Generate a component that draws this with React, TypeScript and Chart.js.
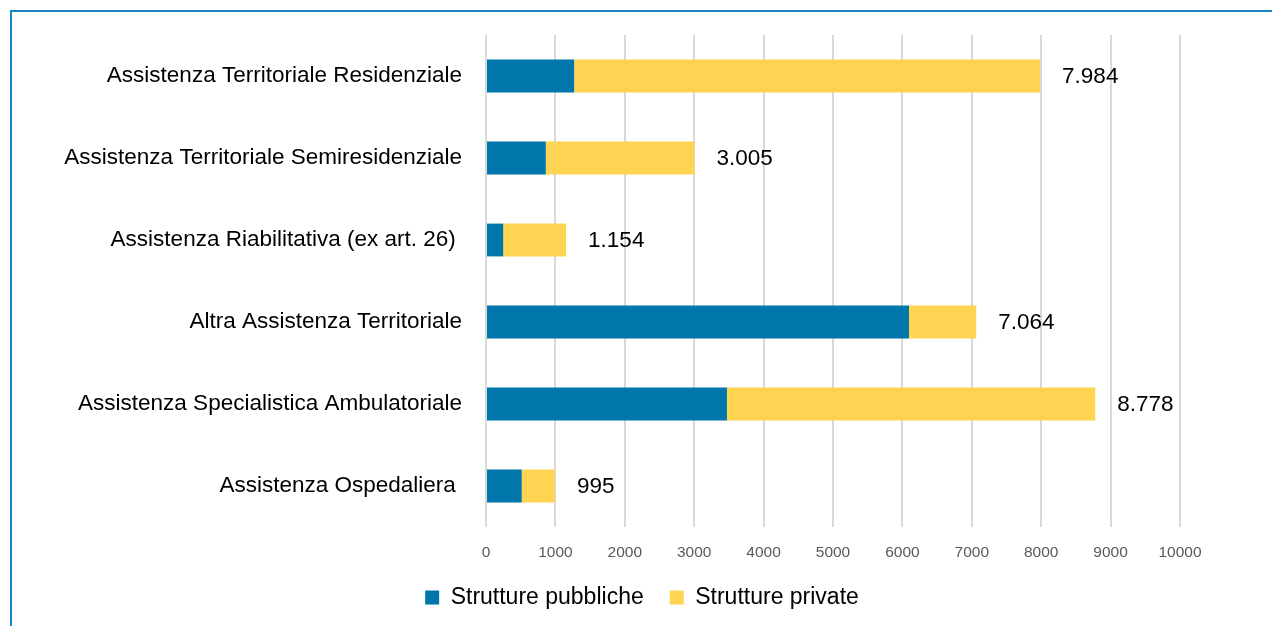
import React, { useEffect, useRef } from "react";
import { Chart, registerables } from "chart.js";

Chart.register(...registerables);

const categories = [
  "Assistenza Territoriale Residenziale",
  "Assistenza Territoriale Semiresidenziale",
  "Assistenza Riabilitativa (ex art. 26) ",
  "Altra Assistenza Territoriale",
  "Assistenza Specialistica Ambulatoriale",
  "Assistenza Ospedaliera ",
];
const pubbliche = [1270, 862, 248, 6095, 3472, 515];
const totals = [7984, 3005, 1154, 7064, 8778, 995];
const private_ = totals.map((t, i) => t - pubbliche[i]);
const totalLabels = ["7.984", "3.005", "1.154", "7.064", "8.778", "995"];
const xTicks = [0, 1000, 2000, 3000, 4000, 5000, 6000, 7000, 8000, 9000, 10000];

const FONT = "'Liberation Sans', Arial, sans-serif";

const totalLabelPlugin = {
  id: "totalLabels",
  afterLayout(chart: any) {
    if (chart.legend) {
      chart.legend.left += 52;
      chart.legend.right += 52;
    }
  },
  afterDatasetsDraw(chart: any) {
    const ctx = chart.ctx;
    const meta = chart.getDatasetMeta(1);
    ctx.save();
    ctx.font = `22.5px ${FONT}`;
    ctx.fillStyle = "#000000";
    ctx.textAlign = "left";
    ctx.textBaseline = "middle";
    meta.data.forEach((bar: any, i: number) => {
      ctx.fillText(totalLabels[i], bar.x + 22, bar.y + 1);
    });
    ctx.restore();
  },
};

export default function App() {
  const ref = useRef<HTMLCanvasElement>(null);
  useEffect(() => {
    if (!ref.current) return;
    const chart = new Chart(ref.current, {
      type: "bar",
      data: {
        labels: categories,
        datasets: [
          {
            label: "Strutture pubbliche",
            data: pubbliche,
            backgroundColor: "#0077AA",
            borderWidth: 0,
            barPercentage: 0.8,
            categoryPercentage: 0.5,
          },
          {
            label: "Strutture private",
            data: private_,
            backgroundColor: "#FFD452",
            borderWidth: 0,
            barPercentage: 0.8,
            categoryPercentage: 0.5,
          },
        ],
      },
      options: {
        indexAxis: "y",
        animation: false,
        responsive: false,
        maintainAspectRatio: false,
        layout: { padding: { top: 35, right: 92, bottom: 21, left: 0 } },
        plugins: {
          legend: {
            position: "bottom",
            labels: {
              boxWidth: 14,
              boxHeight: 14,
              padding: 26,
              color: "#000000",
              font: { family: FONT, size: 23 },
            },
          },
          tooltip: { enabled: false },
        },
        scales: {
          x: {
            stacked: true,
            min: 0,
            max: 10000,
            afterBuildTicks: (scale: any) => {
              scale.ticks = xTicks.map((v) => ({ value: v }));
            },
            afterFit: (scale: any) => {
              scale.height = 33;
            },
            grid: { color: "#D9D9D9", lineWidth: 2, drawTicks: false },
            border: { display: false },
            ticks: {
              padding: 16,
              color: "#595959",
              font: { family: FONT, size: 15.5 },
              callback: (v: any) => String(v),
            },
          },
          y: {
            stacked: true,
            afterFit: (scale: any) => {
              scale.width = 486;
              scale.paddingTop = 0;
              scale.paddingBottom = 0;
            },
            grid: { display: false, drawTicks: false },
            border: { display: false },
            ticks: {
              padding: 24,
              color: "#000000",
              font: { family: FONT, size: 22.5 },
            },
          },
        },
      },
      plugins: [totalLabelPlugin],
    });
    return () => chart.destroy();
  }, []);

  return (
    <div style={{ position: "fixed", inset: 0, overflow: "hidden", background: "#fff" }}>
      <div
        style={{
          position: "absolute",
          left: 10,
          top: 10,
          width: 1400,
          height: 800,
          borderLeft: "2px solid #1A86C6",
          borderTop: "2px solid #1A86C6",
        }}
      />
      <canvas
        ref={ref}
        width={1272}
        height={640}
        style={{ position: "absolute", left: 0, top: 0, width: 1272, height: 640 }}
      />
    </div>
  );
}
